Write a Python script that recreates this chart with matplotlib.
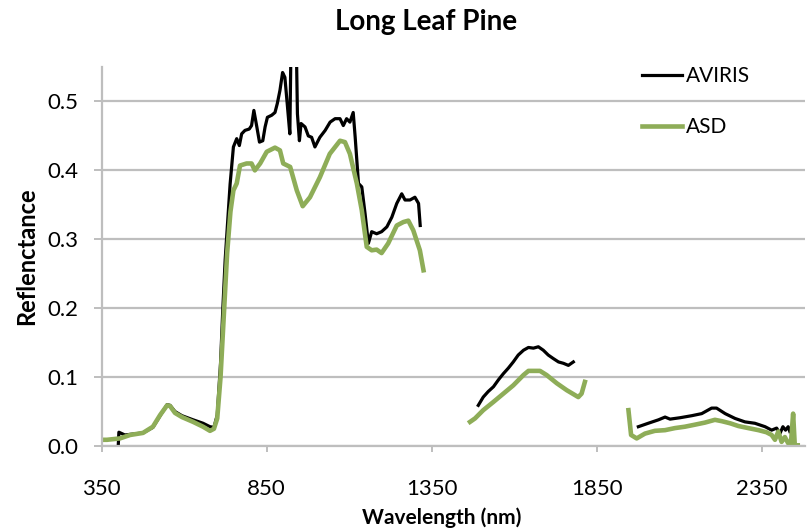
import numpy as np
import matplotlib
matplotlib.use("Agg")
import matplotlib.pyplot as plt

nan = np.nan

# AVIRIS spectrum (nan marks the water absorption gaps)
aviris_wl = [400, 402, 420, 475, 505, 527, 548, 557, 572, 593, 627, 657, 678, 690,
             700, 710, 717, 724, 739, 749, 759, 767, 774, 784, 797, 804, 811, 820,
             828, 838, 845, 852, 865, 875, 882, 890, 898, 905, 912, 920, 924, 933,
             939, 943, 949, 954, 966, 976, 986, 996, 1011, 1027, 1042, 1057, 1072,
             1082, 1092, 1102, 1112, 1118, 1128, 1138, 1148, 1158, 1168, 1183, 1198,
             1214, 1229, 1244, 1259, 1269, 1284, 1299, 1310, 1315,
             1400,
             1491, 1506, 1521, 1537, 1552, 1567, 1582, 1597, 1612, 1628, 1643, 1658,
             1673, 1688, 1703, 1718, 1734, 1749, 1764, 1779,
             1900,
             1976, 2006, 2037, 2057, 2072, 2102, 2138, 2168, 2198, 2213, 2239, 2269,
             2299, 2329, 2360, 2380, 2395, 2405, 2414, 2422, 2430, 2435]
aviris_refl = [0.0, 0.02, 0.016, 0.019, 0.027, 0.044, 0.06, 0.059, 0.05, 0.044, 0.038,
               0.033, 0.028, 0.027, 0.045, 0.12, 0.2, 0.27, 0.38, 0.434, 0.446, 0.436,
               0.453, 0.458, 0.46, 0.465, 0.487, 0.463, 0.441, 0.443, 0.463, 0.477,
               0.48, 0.484, 0.497, 0.516, 0.542, 0.535, 0.497, 0.453, 0.6, 0.6, 0.6,
               0.482, 0.443, 0.468, 0.463, 0.45, 0.448, 0.434, 0.448, 0.458, 0.47,
               0.475, 0.475, 0.465, 0.475, 0.47, 0.484, 0.448, 0.381, 0.376, 0.337,
               0.294, 0.311, 0.308, 0.311, 0.318, 0.332, 0.352, 0.366, 0.357, 0.357,
               0.361, 0.352, 0.32,
               nan,
               0.059, 0.071, 0.079, 0.086, 0.096, 0.105, 0.113, 0.122, 0.132, 0.139,
               0.143, 0.142, 0.144, 0.139, 0.132, 0.127, 0.122, 0.12, 0.117, 0.122,
               nan,
               0.028, 0.033, 0.038, 0.042, 0.039, 0.041, 0.044, 0.047, 0.055, 0.055,
               0.047, 0.04, 0.035, 0.033, 0.028, 0.023, 0.026, 0.018, 0.028, 0.023,
               0.028, 0.021]

# ASD field spectrum
asd_wl = [350, 366, 405, 436, 475, 505, 527, 548, 557, 572, 593, 627, 657, 678, 690,
          700, 710, 720, 730, 740, 749, 759, 769, 789, 804, 814, 830, 850, 875, 890,
          900, 921, 941, 959, 981, 1011, 1041, 1072, 1087, 1102, 1123, 1138, 1153,
          1168, 1183, 1198, 1218, 1244, 1264, 1279, 1294, 1314, 1325,
          1400,
          1466, 1481, 1506, 1537, 1567, 1597, 1628, 1643, 1678, 1698, 1729, 1759,
          1794, 1804, 1814,
          1900,
          1946, 1954, 1971, 1996, 2026, 2057, 2087, 2117, 2148, 2178, 2208, 2229,
          2254, 2279, 2309, 2340, 2364, 2380, 2390, 2400, 2410, 2420, 2430, 2438,
          2445, 2450, 2459]
asd_refl = [0.009, 0.009, 0.011, 0.016, 0.019, 0.028, 0.045, 0.059, 0.058, 0.048,
            0.042, 0.035, 0.028, 0.022, 0.025, 0.04, 0.10, 0.19, 0.28, 0.34, 0.371,
            0.381, 0.407, 0.41, 0.41, 0.40, 0.41, 0.427, 0.433, 0.429, 0.41, 0.405,
            0.371, 0.348, 0.361, 0.39, 0.424, 0.443, 0.441, 0.424, 0.381, 0.342,
            0.289, 0.284, 0.285, 0.28, 0.294, 0.32, 0.325, 0.327, 0.313, 0.284, 0.255,
            nan,
            0.035, 0.04, 0.052, 0.064, 0.076, 0.088, 0.103, 0.109, 0.109, 0.103,
            0.091, 0.081, 0.071, 0.076, 0.093,
            nan,
            0.052, 0.016, 0.011, 0.018, 0.022, 0.023, 0.026, 0.028, 0.031, 0.034,
            0.038, 0.036, 0.033, 0.029, 0.026, 0.023, 0.02, 0.016, 0.009, 0.021,
            0.006, 0.013, 0.004, 0.002, 0.047, 0.001, 0.001]

x_ticks = [350, 850, 1350, 1850, 2350]
y_ticks = [0.0, 0.1, 0.2, 0.3, 0.4, 0.5]

plt.rcParams["font.family"] = ["Lato", "DejaVu Sans"]

fig = plt.figure(figsize=(8.08, 5.28), dpi=100)
ax = fig.add_axes([0.1259, 0.1553, 0.8704, 0.7178])

grid_color = "#BEBEBE"
ax.plot(aviris_wl, aviris_refl, color="black", lw=2.3, label="AVIRIS",
        solid_joinstyle="round")
ax.plot(asd_wl, asd_refl, color="#8EAD58", lw=3.3, label="ASD",
        solid_joinstyle="round")

ax.set_xlim(350, 2481)
ax.set_ylim(0, 0.55)
ax.set_xticks(x_ticks)
ax.set_yticks(y_ticks)
ax.set_yticklabels([f"{v:.1f}" for v in y_ticks])
ax.yaxis.grid(True, color=grid_color, lw=1.6)
ax.set_axisbelow(True)

for side in ["top", "right"]:
    ax.spines[side].set_visible(False)
for side in ["left", "bottom"]:
    ax.spines[side].set_color(grid_color)
    ax.spines[side].set_linewidth(1.6)
ax.tick_params(axis="both", direction="out", width=1.4, color=grid_color,
               labelsize=16)
ax.tick_params(axis="x", length=4.5, pad=19)
ax.tick_params(axis="y", length=6, pad=11)

fig.text(426 / 808, 1 - 22 / 528, "Long Leaf Pine", fontsize=20,
         fontweight="bold", ha="center", va="center")
ax.set_xlabel("Wavelength (nm)", fontsize=15, fontweight="bold")
ax.xaxis.set_label_coords(0.483, -0.161)
ax.set_ylabel("Reflenctance", fontsize=17, fontweight="bold")
ax.yaxis.set_label_coords(-0.09, 0.5)

ax.legend(loc="upper left", bbox_to_anchor=(0.754, 1.03), frameon=False,
          fontsize=15, handlelength=1.9, handletextpad=0.2, labelspacing=1.5,
          borderpad=0)

fig.savefig("out.png", dpi=100)
